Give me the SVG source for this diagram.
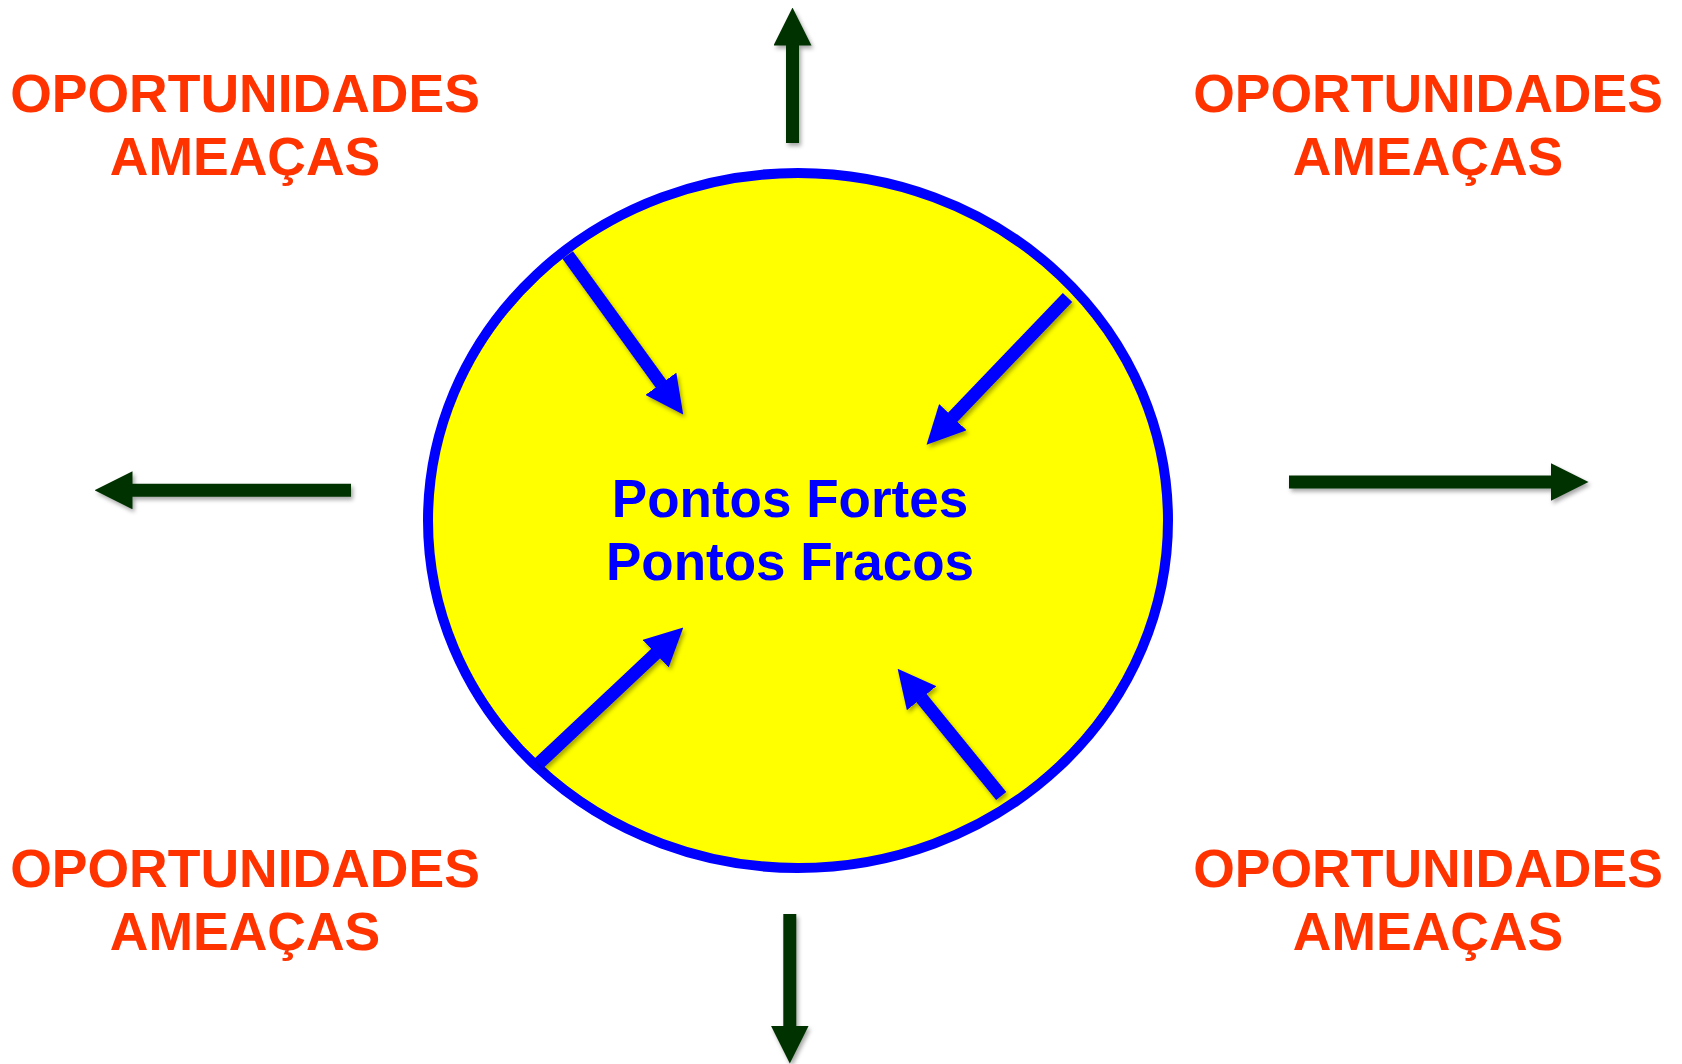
<svg xmlns="http://www.w3.org/2000/svg" width="1682" height="1064" viewBox="0 0 1682 1064">
  <style>
    .env { font-family: "Liberation Sans", Arial, sans-serif; font-weight: bold; font-size: 53.5px; fill: #FF3300; text-anchor: middle; }
    .core { font-family: "Liberation Sans", Arial, sans-serif; font-weight: bold; font-size: 53px; fill: #0000FF; text-anchor: middle; }
    .green { stroke: #003300; stroke-width: 13; fill: none; }
    .blue { stroke: #0000FF; stroke-width: 13; fill: none; }
  </style>
  <defs>
    <filter id="shadow" x="-20%" y="-20%" width="140%" height="140%">
      <feDropShadow dx="2" dy="3" stdDeviation="2" flood-color="#000000" flood-opacity="0.35"/>
    </filter>
    <marker id="headGreen" viewBox="0 0 38 38" markerWidth="38" markerHeight="38" markerUnits="userSpaceOnUse" refX="0.5" refY="19" orient="auto">
      <path d="M0,0 L38,19 L0,38 Z" fill="#003300"/>
    </marker>
    <marker id="headBlue" viewBox="0 0 38 38" markerWidth="38" markerHeight="38" markerUnits="userSpaceOnUse" refX="0.5" refY="19" orient="auto">
      <path d="M0,0 L38,19 L0,38 Z" fill="#0000FF"/>
    </marker>
  </defs>
  <rect width="1682" height="1064" fill="#FFFFFF"/>

  <g id="core">
    <ellipse cx="798" cy="520.5" rx="370" ry="347.5" fill="#FFFF00" stroke="#0000FF" stroke-width="10"/>
    <text class="core" x="790" y="516.5">Pontos Fortes</text>
    <text class="core" x="790" y="579.5">Pontos Fracos</text>
  </g>

  <g id="env-top-left">
    <text class="env" x="245" y="112">OPORTUNIDADES</text>
    <text class="env" x="245" y="175">AMEAÇAS</text>
  </g>
  <g id="env-top-right">
    <text class="env" x="1428" y="112">OPORTUNIDADES</text>
    <text class="env" x="1428" y="175">AMEAÇAS</text>
  </g>
  <g id="env-bottom-left">
    <text class="env" x="245" y="886.5">OPORTUNIDADES</text>
    <text class="env" x="245" y="950">AMEAÇAS</text>
  </g>
  <g id="env-bottom-right">
    <text class="env" x="1428" y="886.5">OPORTUNIDADES</text>
    <text class="env" x="1428" y="950">AMEAÇAS</text>
  </g>

  <g id="connectors" filter="url(#shadow)">
    <line class="green" x1="792.5" y1="143" x2="792.5" y2="45" marker-end="url(#headGreen)"/>
    <line class="green" x1="351" y1="490.3" x2="132" y2="490.3" marker-end="url(#headGreen)"/>
    <line class="green" x1="1289" y1="482" x2="1551" y2="482" marker-end="url(#headGreen)"/>
    <line class="green" x1="789.8" y1="914" x2="789.8" y2="1026" marker-end="url(#headGreen)"/>
    <line class="blue" x1="567.7" y1="255" x2="661.2" y2="384.2" marker-end="url(#headBlue)"/>
    <line class="blue" x1="1067.5" y1="297.5" x2="952.5" y2="417.6" marker-end="url(#headBlue)"/>
    <line class="blue" x1="539" y1="763.3" x2="656" y2="653.3" marker-end="url(#headBlue)"/>
    <line class="blue" x1="1001.2" y1="796" x2="921.3" y2="697.8" marker-end="url(#headBlue)"/>
  </g>
</svg>
